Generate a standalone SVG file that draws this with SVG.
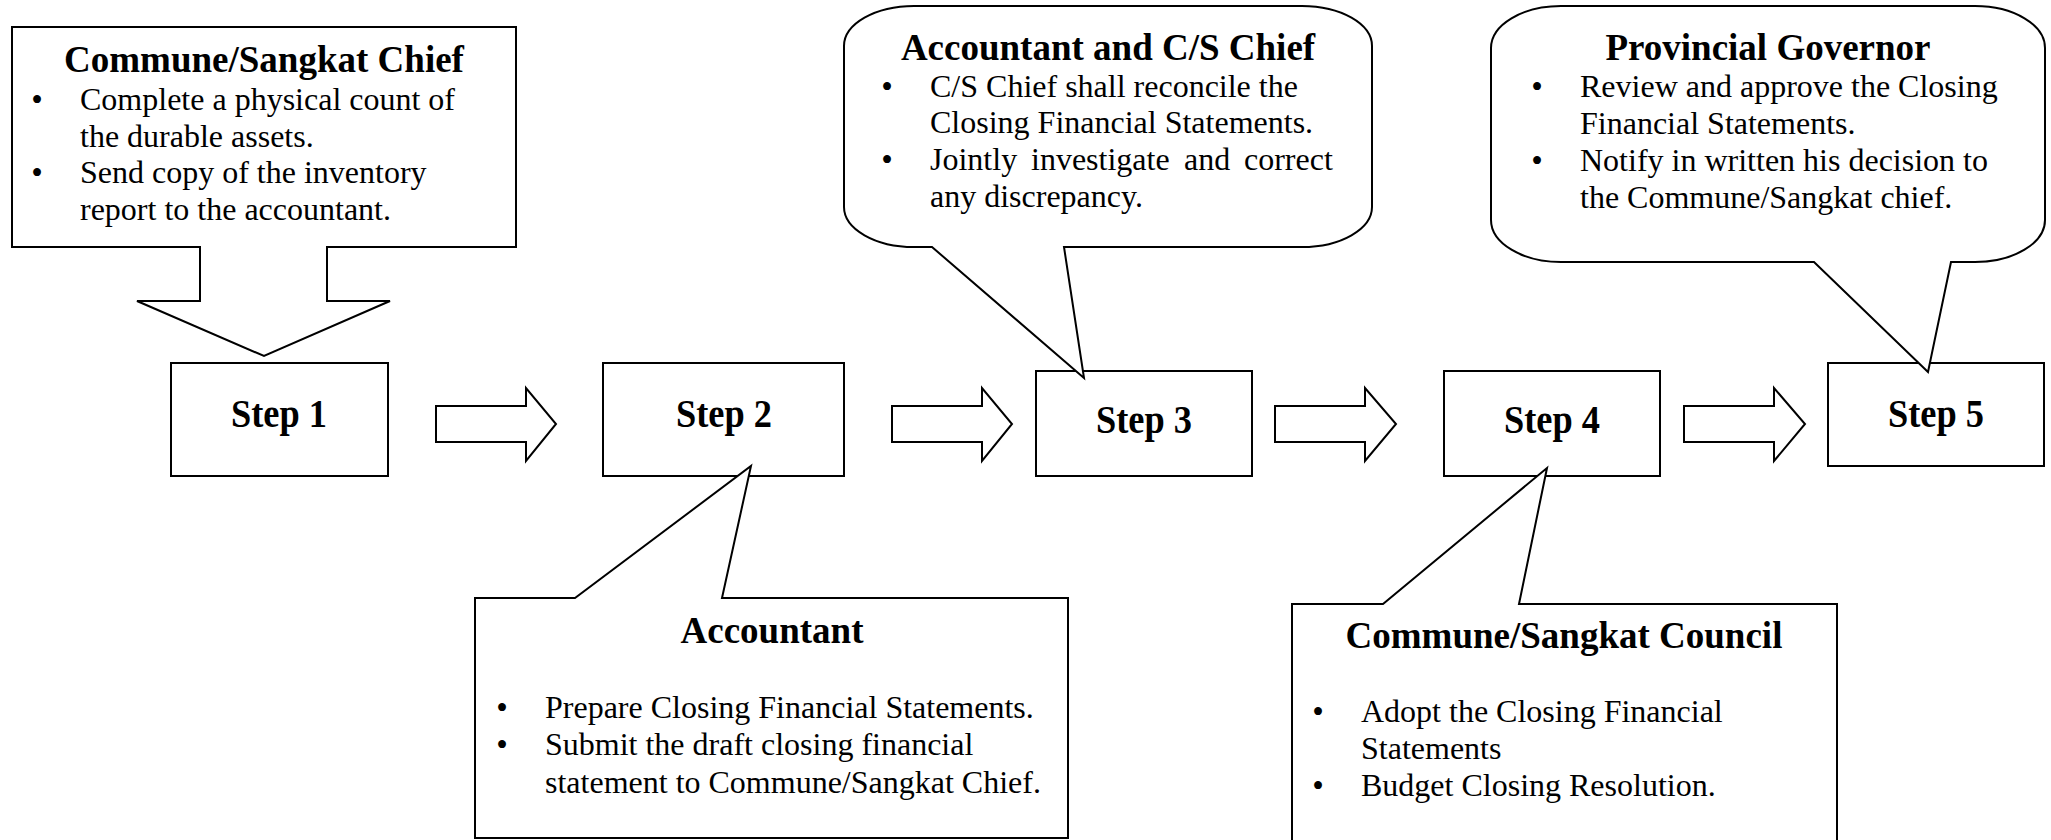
<svg xmlns="http://www.w3.org/2000/svg" width="2051" height="840" viewBox="0 0 2051 840">
<style>
  .shape { fill: #ffffff; stroke: #000000; stroke-width: 2; stroke-linejoin: miter; }
  .title { font-family: "Liberation Serif", "Times New Roman", serif; font-weight: bold; font-size: 37px; text-anchor: middle; fill: #000; }
  .body { font-family: "Liberation Serif", "Times New Roman", serif; font-size: 32px; fill: #000; }
  .bul { font-family: "Liberation Serif", "Times New Roman", serif; font-size: 33px; text-anchor: middle; fill: #000; }
  .step { font-family: "Liberation Serif", "Times New Roman", serif; font-weight: bold; font-size: 39px; text-anchor: middle; fill: #000; }
</style>
<rect x="0" y="0" width="2051" height="840" fill="#ffffff"/>

<g id="node-chief">
  <path class="shape" d="M12,27 H516 V247 H327 V301 H390 L264,356 L137,301 H200 V247 H12 Z"/>
  <text class="title" x="264" y="72">Commune/Sangkat Chief</text>
  <text class="bul" x="37" y="111">•</text>
  <text class="body" x="80" y="110">Complete a physical count of</text>
  <text class="body" x="80" y="147">the durable assets.</text>
  <text class="bul" x="37" y="184">•</text>
  <text class="body" x="80" y="183">Send copy of the inventory</text>
  <text class="body" x="80" y="220">report to the accountant.</text>
</g>

<g id="node-step1">
  <rect class="shape" x="171" y="363" width="217" height="113"/>
  <text class="step" x="279" y="427" textLength="96" lengthAdjust="spacingAndGlyphs">Step 1</text>
</g>

<g id="node-step2">
  <rect class="shape" x="603" y="363" width="241" height="113"/>
  <text class="step" x="724" y="427" textLength="96" lengthAdjust="spacingAndGlyphs">Step 2</text>
</g>

<g id="node-step3">
  <rect class="shape" x="1036" y="371" width="216" height="105"/>
  <text class="step" x="1144" y="433" textLength="96" lengthAdjust="spacingAndGlyphs">Step 3</text>
</g>

<g id="node-step4">
  <rect class="shape" x="1444" y="371" width="216" height="105"/>
  <text class="step" x="1552" y="433" textLength="96" lengthAdjust="spacingAndGlyphs">Step 4</text>
</g>

<g id="node-step5">
  <rect class="shape" x="1828" y="363" width="216" height="103"/>
  <text class="step" x="1936" y="427" textLength="96" lengthAdjust="spacingAndGlyphs">Step 5</text>
</g>

<g id="node-accountant">
  <path class="shape" d="M475,598 H575 L751,466 L722,598 H1068 V838 H475 Z"/>
  <text class="title" x="772" y="643">Accountant</text>
  <text class="bul" x="502" y="719">•</text>
  <text class="body" x="545" y="718">Prepare Closing Financial Statements.</text>
  <text class="bul" x="502" y="756">•</text>
  <text class="body" x="545" y="755">Submit the draft closing financial</text>
  <text class="body" x="545" y="793">statement to Commune/Sangkat Chief.</text>
</g>

<g id="node-acc-cs-chief">
  <path class="shape" d="M914,6 H1302 A70,40 0 0 1 1372,46 V207 A70,40 0 0 1 1302,247 H1064 L1084,378 L932,247 H914 A70,40 0 0 1 844,207 V46 A70,40 0 0 1 914,6 Z"/>
  <text class="title" x="1108" y="60">Accountant and C/S Chief</text>
  <text class="bul" x="887" y="98">•</text>
  <text class="body" x="930" y="97">C/S Chief shall reconcile the</text>
  <text class="body" x="930" y="133">Closing Financial Statements.</text>
  <text class="bul" x="887" y="171">•</text>
  <text class="body" y="170"><tspan x="930">Jointly</tspan> <tspan x="1031">investigate</tspan> <tspan x="1184">and</tspan> <tspan x="1244">correct</tspan></text>
  <text class="body" x="930" y="207">any discrepancy.</text>
</g>

<g id="node-council">
  <path class="shape" d="M1292,604 H1383 L1547,468 L1519,604 H1837 V852 H1292 Z"/>
  <text class="title" x="1564" y="648">Commune/Sangkat Council</text>
  <text class="bul" x="1318" y="723">•</text>
  <text class="body" x="1361" y="722">Adopt the Closing Financial</text>
  <text class="body" x="1361" y="759">Statements</text>
  <text class="bul" x="1318" y="797">•</text>
  <text class="body" x="1361" y="796">Budget Closing Resolution.</text>
</g>

<g id="node-governor">
  <path class="shape" d="M1561,6 H1975 A70,42 0 0 1 2045,48 V220 A70,42 0 0 1 1975,262 H1951 L1928,372 L1814,262 H1561 A70,42 0 0 1 1491,220 V48 A70,42 0 0 1 1561,6 Z"/>
  <text class="title" x="1768" y="60">Provincial Governor</text>
  <text class="bul" x="1537" y="98">•</text>
  <text class="body" x="1580" y="97">Review and approve the Closing</text>
  <text class="body" x="1580" y="134">Financial Statements.</text>
  <text class="bul" x="1537" y="172">•</text>
  <text class="body" x="1580" y="171">Notify in written his decision to</text>
  <text class="body" x="1580" y="208">the Commune/Sangkat chief.</text>
</g>

<g id="connectors">
  <path class="shape" d="M436,406 H526 V388 L556,424 L526,461 V442 H436 Z"/>
  <path class="shape" d="M892,406 H982 V388 L1012,424 L982,461 V442 H892 Z"/>
  <path class="shape" d="M1275,406 H1365 V388 L1396,424 L1365,461 V442 H1275 Z"/>
  <path class="shape" d="M1684,406 H1774 V388 L1805,424 L1774,461 V442 H1684 Z"/>
</g>
</svg>
